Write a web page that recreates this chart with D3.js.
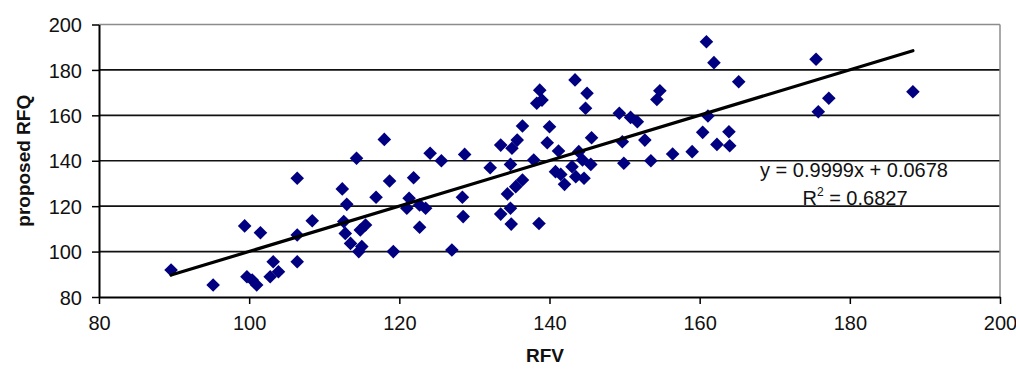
<!DOCTYPE html>
<html>
<head>
<meta charset="utf-8">
<script src="https://cdn.jsdelivr.net/npm/d3@7"></script>
<style>
  html, body { margin: 0; padding: 0; background: #fff; }
  svg { display: block; }
  text { font-family: Arial, "Liberation Sans", sans-serif; fill: #111; }
</style>
</head>
<body>
<svg id="chart" width="1016" height="369"></svg>
<script>
// ---- data ----
const rfv = [
  89.6, 95.2, 99.4, 99.7, 100.4, 101.0, 101.5, 102.8, 103.2, 103.9,
  106.4, 106.4, 106.4, 108.4, 112.4, 113.0, 112.6, 112.8, 113.5, 114.3,
  114.8, 115.5, 115.0, 114.6, 116.9, 118.0, 118.7, 119.2, 121.3, 121.0,
  122.7, 123.5, 121.9, 122.7, 124.1, 125.6, 127.0, 128.4, 128.5, 128.7,
  132.1, 133.5, 133.5, 134.4, 134.8, 134.8, 134.9, 135.0, 135.5, 135.7,
  136.4, 136.4, 137.9, 138.3, 138.6, 138.7, 139.0, 139.7, 140.0, 140.8,
  141.2, 141.5, 142.0, 143.4, 143.5, 143.9, 144.4, 144.6, 144.8, 145.0,
  145.5, 145.6, 149.3, 149.7, 149.9, 150.8, 151.7, 152.7, 153.5, 154.3,
  154.7, 156.4, 159.0, 160.4, 160.9, 161.1, 161.9, 162.3, 163.9, 164.0,
  165.2, 175.5, 175.8, 177.2, 188.4, 143.0
];
const rfq = [
  91.9, 85.3, 111.3, 88.9, 87.5, 85.3, 108.3, 88.9, 95.5, 91.1,
  132.3, 107.3, 95.5, 113.6, 127.6, 120.8, 113.2, 108.0, 103.6, 141.1,
  109.5, 111.7, 102.2, 100.0, 123.9, 149.4, 131.1, 100.0, 123.5, 119.1,
  120.5, 119.1, 132.5, 110.7, 143.3, 140.0, 100.7, 123.9, 115.4, 142.8,
  136.9, 146.9, 116.5, 125.4, 138.4, 119.1, 112.1, 145.5, 128.6, 149.1,
  155.3, 131.5, 140.3, 165.3, 112.4, 171.1, 166.7, 147.9, 155.0, 135.2,
  144.3, 134.0, 129.6, 175.6, 133.0, 144.0, 140.3, 132.3, 163.1, 169.7,
  138.4, 150.1, 160.9, 148.4, 138.9, 159.1, 157.2, 149.1, 140.0, 167.0,
  170.8, 143.0, 144.0, 152.5, 192.4, 159.7, 183.2, 147.2, 152.8, 146.6,
  174.8, 184.7, 161.6, 167.5, 170.4, 137.4
];
const xTicks = [80, 100, 120, 140, 160, 180, 200];
const yTicks = [80, 100, 120, 140, 160, 180, 200];
const slope = 0.9999;
const intercept = 0.0678;
const eqLabel = "y = 0.9999x + 0.0678";
const r2Value = "0.6827";
const xTitle = "RFV";
const yTitle = "proposed RFQ";

// ---- layout ----
const svg = d3.select("#chart");
const mLeft = 99, mRight = 1000, mTop = 24.5, mBottom = 297;
const x = d3.scaleLinear().domain([80, 200]).range([mLeft, mRight]);
const y = d3.scaleLinear().domain([80, 200]).range([mBottom, mTop]);

// gridlines (inner)
svg.append("g").selectAll("line")
  .data(yTicks.filter(v => v > 80 && v < 200))
  .join("line")
  .attr("x1", mLeft).attr("x2", mRight)
  .attr("y1", d => y(d)).attr("y2", d => y(d))
  .attr("stroke", "#111").attr("stroke-width", 1.6);

// top and right border (grey)
svg.append("line").attr("x1", mLeft).attr("x2", mRight)
  .attr("y1", y(200)).attr("y2", y(200))
  .attr("stroke", "#8c8c8c").attr("stroke-width", 1.5);
svg.append("line").attr("x1", mRight).attr("x2", mRight)
  .attr("y1", y(200)).attr("y2", mBottom)
  .attr("stroke", "#8c8c8c").attr("stroke-width", 1.5);

// axes
const xAxis = d3.axisBottom(x).tickValues(xTicks).tickSize(7).tickSizeOuter(0).tickPadding(12);
const yAxis = d3.axisLeft(y).tickValues(yTicks).tickSize(7).tickSizeOuter(0).tickPadding(10);

const gx = svg.append("g").attr("transform", `translate(0,${mBottom})`).call(xAxis);
const gy = svg.append("g").attr("transform", `translate(${mLeft},0)`).call(yAxis);
[gx, gy].forEach(g => {
  g.select(".domain").attr("stroke", "#000").attr("stroke-width", 2);
  g.selectAll(".tick line").attr("stroke", "#000").attr("stroke-width", 1.5);
  g.selectAll(".tick text").attr("font-size", 20)
    .attr("font-family", "Arial, 'Liberation Sans', sans-serif").attr("fill", "#111");
});
gy.selectAll(".tick text").attr("dy", "0.36em");

// points (diamonds)
const pts = rfv.map((v, i) => [v, rfq[i]]);
const r = 6.8;
svg.append("g").selectAll("path")
  .data(pts)
  .join("path")
  .attr("transform", d => `translate(${x(d[0])},${y(d[1])})`)
  .attr("d", `M0,${-r}L${r},0L0,${r}L${-r},0Z`)
  .attr("fill", "#000080");

// trendline
const xMin = d3.min(rfv), xMax = d3.max(rfv);
svg.append("line")
  .attr("x1", x(xMin)).attr("y1", y(slope * xMin + intercept))
  .attr("x2", x(xMax)).attr("y2", y(slope * xMax + intercept))
  .attr("stroke", "#000").attr("stroke-width", 3.2).attr("stroke-linecap", "round");

// equation labels
svg.append("text").attr("x", 854).attr("y", 177)
  .attr("text-anchor", "middle").attr("font-size", 20).text(eqLabel);
const r2 = svg.append("text").attr("x", 855).attr("y", 205)
  .attr("text-anchor", "middle").attr("font-size", 20);
r2.append("tspan").text("R");
r2.append("tspan").attr("font-size", 12).attr("dy", -9).text("2");
r2.append("tspan").attr("dy", 9).text(" = " + r2Value);

// axis titles
svg.append("text").attr("x", 545).attr("y", 362)
  .attr("text-anchor", "middle").attr("font-size", 19).attr("font-weight", "bold")
  .text(xTitle);
svg.append("text")
  .attr("transform", `translate(30,${(mTop + mBottom) / 2}) rotate(-90)`)
  .attr("text-anchor", "middle").attr("font-size", 19).attr("font-weight", "bold")
  .text(yTitle);
</script>
</body>
</html>
